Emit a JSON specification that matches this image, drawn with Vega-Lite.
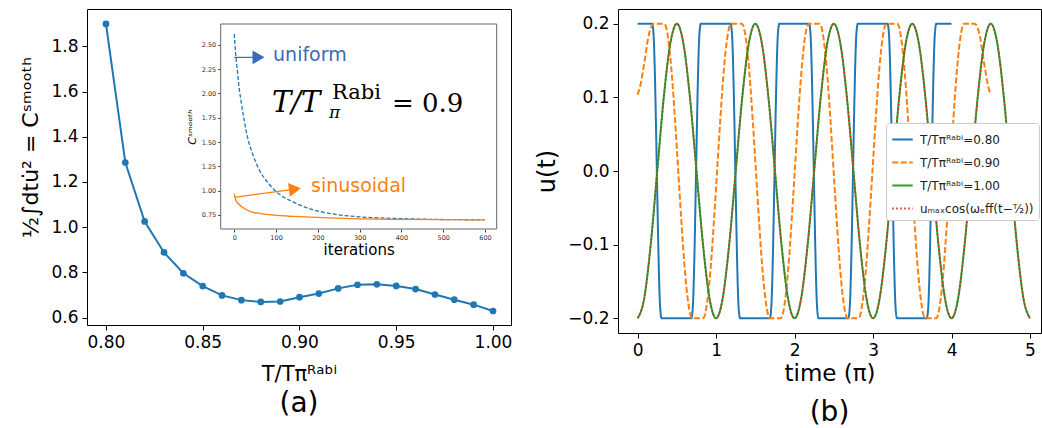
{
  "$schema": "https://vega.github.io/schema/vega-lite/v6.json",
  "padding": {"left": 19, "top": 8, "right": 0, "bottom": 0},
  "spacing": 22,
  "resolve": {"legend": {"color": "independent", "strokeDash": "independent"}},
  "config": {
    "font": "DejaVu Sans",
    "view": {"stroke": "#000", "strokeWidth": 1},
    "axis": {"grid": false, "domain": false, "tickColor": "#000", "tickSize": 5, "labelColor": "#000", "labelFontSize": 17, "titleColor": "#000", "titleFontWeight": "normal", "labelPadding": 4},
    "title": {"fontSize": 28, "fontWeight": "normal", "orient": "bottom", "color": "#000", "offset": 8}
  },
  "datasets": {
    "main": [
      {"T": 0.80, "C": 1.899}, {"T": 0.81, "C": 1.286}, {"T": 0.82, "C": 1.025}, {"T": 0.83, "C": 0.888},
      {"T": 0.84, "C": 0.796}, {"T": 0.85, "C": 0.739}, {"T": 0.86, "C": 0.698}, {"T": 0.87, "C": 0.677},
      {"T": 0.88, "C": 0.669}, {"T": 0.89, "C": 0.671}, {"T": 0.90, "C": 0.690}, {"T": 0.91, "C": 0.706},
      {"T": 0.92, "C": 0.729}, {"T": 0.93, "C": 0.745}, {"T": 0.94, "C": 0.747}, {"T": 0.95, "C": 0.740},
      {"T": 0.96, "C": 0.726}, {"T": 0.97, "C": 0.702}, {"T": 0.98, "C": 0.679}, {"T": 0.99, "C": 0.657},
      {"T": 1.00, "C": 0.629}
    ],
    "unif": [
      {"ix": 0, "iy": 2.61}, {"ix": 3, "iy": 2.42}, {"ix": 7, "iy": 2.25}, {"ix": 11, "iy": 2.08},
      {"ix": 17, "iy": 1.90}, {"ix": 23, "iy": 1.74}, {"ix": 31, "iy": 1.56}, {"ix": 43, "iy": 1.39},
      {"ix": 59, "iy": 1.22}, {"ix": 79, "iy": 1.09}, {"ix": 103, "iy": 0.98}, {"ix": 143, "iy": 0.88},
      {"ix": 183, "iy": 0.81}, {"ix": 223, "iy": 0.77}, {"ix": 302, "iy": 0.73}, {"ix": 382, "iy": 0.715},
      {"ix": 462, "iy": 0.706}, {"ix": 598, "iy": 0.70}
    ],
    "sinus": [
      {"ix": 0, "iy": 0.97}, {"ix": 3, "iy": 0.91}, {"ix": 11, "iy": 0.86}, {"ix": 23, "iy": 0.82},
      {"ix": 43, "iy": 0.78}, {"ix": 63, "iy": 0.765}, {"ix": 103, "iy": 0.745}, {"ix": 143, "iy": 0.735},
      {"ix": 223, "iy": 0.72}, {"ix": 302, "iy": 0.71}, {"ix": 382, "iy": 0.705}, {"ix": 600, "iy": 0.70}
    ],
    "wave": [
      {"s": "0.80", "t": 0, "u": 0.2}, {"s": "0.80", "t": 0.185, "u": 0.2}, {"s": "0.80", "t": 0.2, "u": 0.19}, {"s": "0.80", "t": 0.29, "u": -0.19}, {"s": "0.80", "t": 0.305, "u": -0.2},
      {"s": "0.80", "t": 0.685, "u": -0.2}, {"s": "0.80", "t": 0.7, "u": -0.19}, {"s": "0.80", "t": 0.79, "u": 0.19}, {"s": "0.80", "t": 0.805, "u": 0.2},
      {"s": "0.80", "t": 1.185, "u": 0.2}, {"s": "0.80", "t": 1.2, "u": 0.19}, {"s": "0.80", "t": 1.29, "u": -0.19}, {"s": "0.80", "t": 1.305, "u": -0.2},
      {"s": "0.80", "t": 1.685, "u": -0.2}, {"s": "0.80", "t": 1.7, "u": -0.19}, {"s": "0.80", "t": 1.79, "u": 0.19}, {"s": "0.80", "t": 1.805, "u": 0.2},
      {"s": "0.80", "t": 2.185, "u": 0.2}, {"s": "0.80", "t": 2.2, "u": 0.19}, {"s": "0.80", "t": 2.29, "u": -0.19}, {"s": "0.80", "t": 2.305, "u": -0.2},
      {"s": "0.80", "t": 2.685, "u": -0.2}, {"s": "0.80", "t": 2.7, "u": -0.19}, {"s": "0.80", "t": 2.79, "u": 0.19}, {"s": "0.80", "t": 2.805, "u": 0.2},
      {"s": "0.80", "t": 3.185, "u": 0.2}, {"s": "0.80", "t": 3.2, "u": 0.19}, {"s": "0.80", "t": 3.29, "u": -0.19}, {"s": "0.80", "t": 3.305, "u": -0.2},
      {"s": "0.80", "t": 3.685, "u": -0.2}, {"s": "0.80", "t": 3.7, "u": -0.19}, {"s": "0.80", "t": 3.79, "u": 0.19}, {"s": "0.80", "t": 3.805, "u": 0.2},
      {"s": "0.80", "t": 4.0, "u": 0.2},

      {"s": "0.90", "t": 0, "u": 0.1035}, {"s": "0.90", "t": 0.02, "u": 0.11}, {"s": "0.90", "t": 0.045, "u": 0.121}, {"s": "0.90", "t": 0.07, "u": 0.137},
      {"s": "0.90", "t": 0.1, "u": 0.157}, {"s": "0.90", "t": 0.13, "u": 0.178}, {"s": "0.90", "t": 0.16, "u": 0.192}, {"s": "0.90", "t": 0.19, "u": 0.199}, {"s": "0.90", "t": 0.21, "u": 0.2},
      {"s": "0.90", "t": 0.3375, "u": 0.2}, {"s": "0.90", "t": 0.3575, "u": 0.197}, {"s": "0.90", "t": 0.3975, "u": 0.173}, {"s": "0.90", "t": 0.4375, "u": 0.129}, {"s": "0.90", "t": 0.4775, "u": 0.068},
      {"s": "0.90", "t": 0.5175, "u": 0}, {"s": "0.90", "t": 0.5575, "u": -0.068}, {"s": "0.90", "t": 0.5975, "u": -0.129}, {"s": "0.90", "t": 0.6375, "u": -0.173}, {"s": "0.90", "t": 0.6775, "u": -0.197}, {"s": "0.90", "t": 0.6975, "u": -0.2},
      {"s": "0.90", "t": 0.8325, "u": -0.2}, {"s": "0.90", "t": 0.8525, "u": -0.197}, {"s": "0.90", "t": 0.8925, "u": -0.173}, {"s": "0.90", "t": 0.9325, "u": -0.129}, {"s": "0.90", "t": 0.9725, "u": -0.068},
      {"s": "0.90", "t": 1.0125, "u": 0}, {"s": "0.90", "t": 1.0525, "u": 0.068}, {"s": "0.90", "t": 1.0925, "u": 0.129}, {"s": "0.90", "t": 1.1325, "u": 0.173}, {"s": "0.90", "t": 1.1725, "u": 0.197}, {"s": "0.90", "t": 1.1925, "u": 0.2},
      {"s": "0.90", "t": 1.3275, "u": 0.2}, {"s": "0.90", "t": 1.3475, "u": 0.197}, {"s": "0.90", "t": 1.3875, "u": 0.173}, {"s": "0.90", "t": 1.4275, "u": 0.129}, {"s": "0.90", "t": 1.4675, "u": 0.068},
      {"s": "0.90", "t": 1.5075, "u": 0}, {"s": "0.90", "t": 1.5475, "u": -0.068}, {"s": "0.90", "t": 1.5875, "u": -0.129}, {"s": "0.90", "t": 1.6275, "u": -0.173}, {"s": "0.90", "t": 1.6675, "u": -0.197}, {"s": "0.90", "t": 1.6875, "u": -0.2},
      {"s": "0.90", "t": 1.8225, "u": -0.2}, {"s": "0.90", "t": 1.8425, "u": -0.197}, {"s": "0.90", "t": 1.8825, "u": -0.173}, {"s": "0.90", "t": 1.9225, "u": -0.129}, {"s": "0.90", "t": 1.9625, "u": -0.068},
      {"s": "0.90", "t": 2.0025, "u": 0}, {"s": "0.90", "t": 2.0425, "u": 0.068}, {"s": "0.90", "t": 2.0825, "u": 0.129}, {"s": "0.90", "t": 2.1225, "u": 0.173}, {"s": "0.90", "t": 2.1625, "u": 0.197}, {"s": "0.90", "t": 2.1825, "u": 0.2},
      {"s": "0.90", "t": 2.3175, "u": 0.2}, {"s": "0.90", "t": 2.3375, "u": 0.197}, {"s": "0.90", "t": 2.3775, "u": 0.173}, {"s": "0.90", "t": 2.4175, "u": 0.129}, {"s": "0.90", "t": 2.4575, "u": 0.068},
      {"s": "0.90", "t": 2.4975, "u": 0}, {"s": "0.90", "t": 2.5375, "u": -0.068}, {"s": "0.90", "t": 2.5775, "u": -0.129}, {"s": "0.90", "t": 2.6175, "u": -0.173}, {"s": "0.90", "t": 2.6575, "u": -0.197}, {"s": "0.90", "t": 2.6775, "u": -0.2},
      {"s": "0.90", "t": 2.8125, "u": -0.2}, {"s": "0.90", "t": 2.8325, "u": -0.197}, {"s": "0.90", "t": 2.8725, "u": -0.173}, {"s": "0.90", "t": 2.9125, "u": -0.129}, {"s": "0.90", "t": 2.9525, "u": -0.068},
      {"s": "0.90", "t": 2.9925, "u": 0}, {"s": "0.90", "t": 3.0325, "u": 0.068}, {"s": "0.90", "t": 3.0725, "u": 0.129}, {"s": "0.90", "t": 3.1125, "u": 0.173}, {"s": "0.90", "t": 3.1525, "u": 0.197}, {"s": "0.90", "t": 3.1725, "u": 0.2},
      {"s": "0.90", "t": 3.3075, "u": 0.2}, {"s": "0.90", "t": 3.3275, "u": 0.197}, {"s": "0.90", "t": 3.3675, "u": 0.173}, {"s": "0.90", "t": 3.4075, "u": 0.129}, {"s": "0.90", "t": 3.4475, "u": 0.068},
      {"s": "0.90", "t": 3.4875, "u": 0}, {"s": "0.90", "t": 3.5275, "u": -0.068}, {"s": "0.90", "t": 3.5675, "u": -0.129}, {"s": "0.90", "t": 3.6075, "u": -0.173}, {"s": "0.90", "t": 3.6475, "u": -0.197}, {"s": "0.90", "t": 3.6675, "u": -0.2},
      {"s": "0.90", "t": 3.8025, "u": -0.2}, {"s": "0.90", "t": 3.8225, "u": -0.197}, {"s": "0.90", "t": 3.8625, "u": -0.173}, {"s": "0.90", "t": 3.9025, "u": -0.129}, {"s": "0.90", "t": 3.9425, "u": -0.068},
      {"s": "0.90", "t": 3.9825, "u": 0}, {"s": "0.90", "t": 4.0225, "u": 0.068}, {"s": "0.90", "t": 4.0625, "u": 0.129}, {"s": "0.90", "t": 4.1025, "u": 0.173}, {"s": "0.90", "t": 4.1425, "u": 0.197}, {"s": "0.90", "t": 4.1625, "u": 0.2},
      {"s": "0.90", "t": 4.29, "u": 0.2}, {"s": "0.90", "t": 4.31, "u": 0.199}, {"s": "0.90", "t": 4.34, "u": 0.192}, {"s": "0.90", "t": 4.37, "u": 0.178}, {"s": "0.90", "t": 4.4, "u": 0.157},
      {"s": "0.90", "t": 4.43, "u": 0.137}, {"s": "0.90", "t": 4.455, "u": 0.121}, {"s": "0.90", "t": 4.48, "u": 0.11}, {"s": "0.90", "t": 4.5, "u": 0.1035},

      {"s": "1.00", "t": 0, "u": -0.2}, {"s": "1.00", "t": 0.0833, "u": -0.1732}, {"s": "1.00", "t": 0.1667, "u": -0.1}, {"s": "1.00", "t": 0.25, "u": 0}, {"s": "1.00", "t": 0.3333, "u": 0.1}, {"s": "1.00", "t": 0.4167, "u": 0.1732},
      {"s": "1.00", "t": 0.5, "u": 0.2}, {"s": "1.00", "t": 0.5833, "u": 0.1732}, {"s": "1.00", "t": 0.6667, "u": 0.1}, {"s": "1.00", "t": 0.75, "u": 0}, {"s": "1.00", "t": 0.8333, "u": -0.1}, {"s": "1.00", "t": 0.9167, "u": -0.1732},
      {"s": "1.00", "t": 1, "u": -0.2}, {"s": "1.00", "t": 1.0833, "u": -0.1732}, {"s": "1.00", "t": 1.1667, "u": -0.1}, {"s": "1.00", "t": 1.25, "u": 0}, {"s": "1.00", "t": 1.3333, "u": 0.1}, {"s": "1.00", "t": 1.4167, "u": 0.1732},
      {"s": "1.00", "t": 1.5, "u": 0.2}, {"s": "1.00", "t": 1.5833, "u": 0.1732}, {"s": "1.00", "t": 1.6667, "u": 0.1}, {"s": "1.00", "t": 1.75, "u": 0}, {"s": "1.00", "t": 1.8333, "u": -0.1}, {"s": "1.00", "t": 1.9167, "u": -0.1732},
      {"s": "1.00", "t": 2, "u": -0.2}, {"s": "1.00", "t": 2.0833, "u": -0.1732}, {"s": "1.00", "t": 2.1667, "u": -0.1}, {"s": "1.00", "t": 2.25, "u": 0}, {"s": "1.00", "t": 2.3333, "u": 0.1}, {"s": "1.00", "t": 2.4167, "u": 0.1732},
      {"s": "1.00", "t": 2.5, "u": 0.2}, {"s": "1.00", "t": 2.5833, "u": 0.1732}, {"s": "1.00", "t": 2.6667, "u": 0.1}, {"s": "1.00", "t": 2.75, "u": 0}, {"s": "1.00", "t": 2.8333, "u": -0.1}, {"s": "1.00", "t": 2.9167, "u": -0.1732},
      {"s": "1.00", "t": 3, "u": -0.2}, {"s": "1.00", "t": 3.0833, "u": -0.1732}, {"s": "1.00", "t": 3.1667, "u": -0.1}, {"s": "1.00", "t": 3.25, "u": 0}, {"s": "1.00", "t": 3.3333, "u": 0.1}, {"s": "1.00", "t": 3.4167, "u": 0.1732},
      {"s": "1.00", "t": 3.5, "u": 0.2}, {"s": "1.00", "t": 3.5833, "u": 0.1732}, {"s": "1.00", "t": 3.6667, "u": 0.1}, {"s": "1.00", "t": 3.75, "u": 0}, {"s": "1.00", "t": 3.8333, "u": -0.1}, {"s": "1.00", "t": 3.9167, "u": -0.1732},
      {"s": "1.00", "t": 4, "u": -0.2}, {"s": "1.00", "t": 4.0833, "u": -0.1732}, {"s": "1.00", "t": 4.1667, "u": -0.1}, {"s": "1.00", "t": 4.25, "u": 0}, {"s": "1.00", "t": 4.3333, "u": 0.1}, {"s": "1.00", "t": 4.4167, "u": 0.1732},
      {"s": "1.00", "t": 4.5, "u": 0.2}, {"s": "1.00", "t": 4.5833, "u": 0.1732}, {"s": "1.00", "t": 4.6667, "u": 0.1}, {"s": "1.00", "t": 4.75, "u": 0}, {"s": "1.00", "t": 4.8333, "u": -0.1}, {"s": "1.00", "t": 4.9167, "u": -0.1732},
      {"s": "1.00", "t": 5, "u": -0.2}
    ]
  },
  "hconcat": [
    {
      "width": 424,
      "height": 316,
      "title": {"text": "(a)", "offset": 6},
      "layer": [
        {
          "data": {"name": "main"},
          "encoding": {
            "x": {"field": "T", "type": "quantitative", "scale": {"domain": [0.7902, 1.0093], "nice": false, "zero": false},
                  "axis": {"values": [0.8, 0.85, 0.9, 0.95, 1.0], "format": ".2f", "title": "T/Tπᴿᵃᵇⁱ", "titleFontSize": 21, "titlePadding": 13, "orient": "bottom"}},
            "y": {"field": "C", "type": "quantitative", "scale": {"domain": [0.567, 1.965], "nice": false, "zero": false},
                  "axis": {"values": [0.6, 0.8, 1.0, 1.2, 1.4, 1.6, 1.8], "format": ".1f", "title": "½∫dtu̇² = Cˢᵐᵒᵒᵗʰ", "titleFontSize": 22, "titlePadding": 8, "titleY": 138, "orient": "left"}}
          },
          "layer": [
            {"mark": {"type": "line", "color": "#1f77b4", "strokeWidth": 2}},
            {"mark": {"type": "point", "filled": true, "color": "#1f77b4", "size": 45, "opacity": 1}}
          ]
        },
        {
          "encoding": {
            "x": {"field": "ix", "type": "quantitative", "scale": {"domain": [-32.5, 628], "range": [133.7, 409.7], "nice": false, "zero": false},
                  "axis": {"orient": "bottom", "offset": -96, "values": [0, 100, 200, 300, 400, 500, 600], "labelFontSize": 6.5, "labelColor": "#333", "tickSize": 3, "tickColor": "#444", "labelPadding": 2, "title": "iterations", "titleFontSize": 15, "titlePadding": 2}},
            "y": {"field": "iy", "type": "quantitative", "scale": {"domain": [0.606, 2.713], "range": [220, 15], "nice": false, "zero": false},
                  "axis": {"orient": "left", "offset": -133.7, "values": [0.75, 1.0, 1.25, 1.5, 1.75, 2.0, 2.25, 2.5], "format": ".2f", "labelFontSize": 6.5, "labelColor": "#333", "tickSize": 3, "tickColor": "#444", "labelPadding": 2, "title": "Cˢᵐᵒᵒᵗʰ", "titleFontSize": 11, "titleFontStyle": "italic", "titlePadding": 4}}
          },
          "layer": [
            {"data": {"values": [{"ix": -32.5, "ix2": 628, "iy": 0.606, "iy2": 2.713}]}, "mark": {"type": "rect", "fill": "#fff", "stroke": "#666", "strokeWidth": 1}, "encoding": {"x2": {"field": "ix2"}, "y2": {"field": "iy2"}}},
            {"data": {"name": "unif"}, "mark": {"type": "line", "color": "#1f77b4", "strokeDash": [4, 2], "strokeWidth": 1.3, "interpolate": "monotone"}},
            {"data": {"name": "sinus"}, "mark": {"type": "line", "color": "#ff7f0e", "strokeWidth": 1.3, "interpolate": "monotone"}},
            {"data": {"values": [{"ix": 0, "iy": 2.37}, {"ix": 45, "iy": 2.37}]}, "mark": {"type": "line", "color": "#3a6bb5", "strokeWidth": 1.2}},
            {"data": {"values": [{"ix": 58, "iy": 2.37}]}, "mark": {"type": "point", "shape": "triangle-right", "filled": true, "opacity": 1, "color": "#3a6bb5", "size": 190}},
            {"data": {"values": [{"ix": 0, "iy": 0.932}, {"ix": 133, "iy": 1.008}]}, "mark": {"type": "line", "color": "#ff7f0e", "strokeWidth": 1.2}},
            {"data": {"values": [{"ix": 145, "iy": 1.017}]}, "mark": {"type": "point", "shape": "triangle-right", "filled": true, "opacity": 1, "color": "#ff7f0e", "size": 190, "angle": -8}},
            {"data": {"values": [{"ix": 92.8, "iy": 2.336}]}, "mark": {"type": "text", "text": "uniform", "align": "left", "baseline": "alphabetic", "fontSize": 19, "color": "#3a6bb5"}},
            {"data": {"values": [{"ix": 183.6, "iy": 0.989}]}, "mark": {"type": "text", "text": "sinusoidal", "align": "left", "baseline": "alphabetic", "fontSize": 19, "color": "#ff7f0e"}},
            {"data": {"values": [{"ix": 90.2, "iy": 1.808}]}, "mark": {"type": "text", "text": "T/T", "align": "left", "baseline": "alphabetic", "fontSize": 29, "font": "DejaVu Serif", "fontStyle": "italic", "color": "#000"}},
            {"data": {"values": [{"ix": 233.8, "iy": 1.942}]}, "mark": {"type": "text", "text": "Rabi", "align": "left", "baseline": "alphabetic", "fontSize": 21, "font": "DejaVu Serif", "color": "#000"}},
            {"data": {"values": [{"ix": 226.6, "iy": 1.747}]}, "mark": {"type": "text", "text": "π", "align": "left", "baseline": "alphabetic", "fontSize": 17, "font": "DejaVu Serif", "fontStyle": "italic", "color": "#000"}},
            {"data": {"values": [{"ix": 377.4, "iy": 1.808}]}, "mark": {"type": "text", "text": "= 0.9", "align": "left", "baseline": "alphabetic", "fontSize": 26, "font": "DejaVu Serif", "color": "#000"}}
          ]
        }
      ],
      "resolve": {"scale": {"x": "independent", "y": "independent"}}
    },
    {
      "width": 423,
      "height": 324,
      "title": {"text": "(b)", "offset": 14},
      "encoding": {
        "x": {"field": "t", "type": "quantitative", "scale": {"domain": [-0.25, 5.14], "nice": false, "zero": false},
              "axis": {"values": [0, 1, 2, 3, 4, 5], "format": "d", "title": "time (π)", "titleFontSize": 23, "titlePadding": 4}},
        "y": {"field": "u", "type": "quantitative", "scale": {"domain": [-0.22, 0.22], "nice": false, "zero": false},
              "axis": {"values": [-0.2, -0.1, 0, 0.1, 0.2], "format": ".1f", "title": "u(t)", "titleFontSize": 24, "titlePadding": 8}}
      },
      "layer": [
        {
          "data": {"name": "wave"},
          "mark": {"type": "line", "strokeWidth": 2, "interpolate": "monotone"},
          "encoding": {
            "color": {"field": "s", "type": "nominal", "scale": {"domain": ["0.80", "0.90", "1.00", "fit"], "range": ["#1f77b4", "#ff7f0e", "#2ca02c", "#d62728"]},
              "legend": {"orient": "none", "legendX": 268, "legendY": 114, "title": null, "labelExpr": "datum.label == 'fit' ? 'uₘₐₓcos(ωₑff(t−ᵀ⁄₂))' : 'T/Tπᴿᵃᵇⁱ=' + datum.label", "symbolType": "stroke", "symbolStrokeWidth": 2, "symbolSize": 420, "labelFontSize": 12, "labelColor": "#222", "labelOffset": 6, "fillColor": "#fff", "strokeColor": "#ccc", "padding": 5, "cornerRadius": 3, "rowPadding": 5}},
            "strokeDash": {"field": "s", "type": "nominal", "scale": {"domain": ["0.80", "0.90", "1.00", "fit"], "range": [[1, 0], [6, 2.5], [1, 0], [1.5, 2.5]]},
              "legend": {"orient": "none", "legendX": 268, "legendY": 114, "title": null, "labelExpr": "datum.label == 'fit' ? 'uₘₐₓcos(ωₑff(t−ᵀ⁄₂))' : 'T/Tπᴿᵃᵇⁱ=' + datum.label", "symbolType": "stroke", "symbolStrokeWidth": 2, "symbolSize": 420, "labelFontSize": 12, "labelColor": "#222", "labelOffset": 6, "fillColor": "#fff", "strokeColor": "#ccc", "padding": 5, "cornerRadius": 3, "rowPadding": 5}}
          }
        },
        {
          "data": {"name": "wave"},
          "transform": [{"filter": "datum.s == '1.00'"}],
          "mark": {"type": "line", "strokeWidth": 1.6, "interpolate": "monotone"},
          "encoding": {
            "color": {"datum": "fit"},
            "strokeDash": {"datum": "fit"}
          }
        }
      ]
    }
  ]
}
